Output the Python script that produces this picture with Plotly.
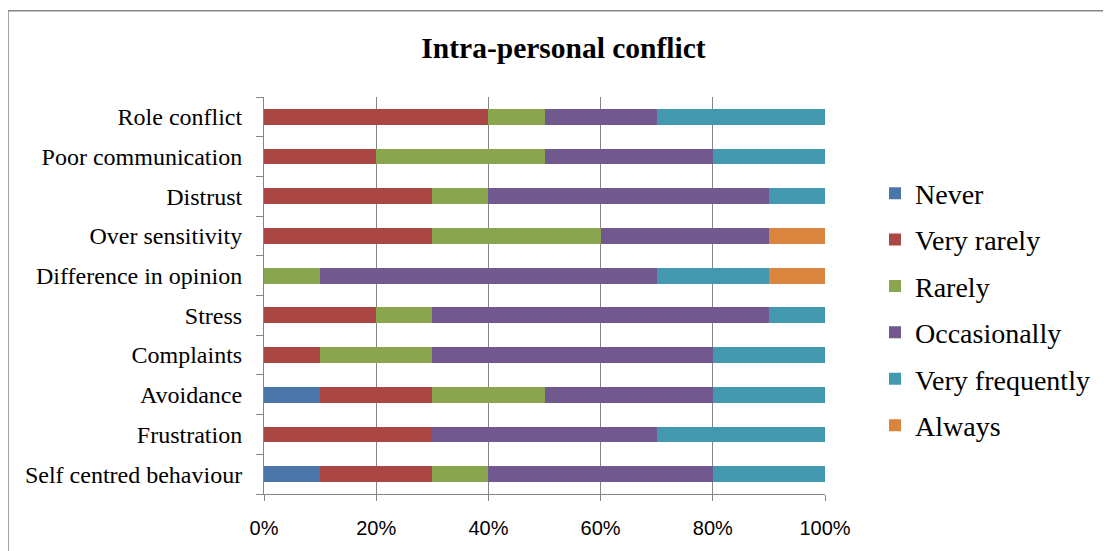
import plotly.graph_objects as go

categories = ["Self centred behaviour", "Frustration", "Avoidance", "Complaints", "Stress",
              "Difference in opinion", "Over sensitivity", "Distrust", "Poor communication", "Role conflict"]
never = [10, 0, 10, 0, 0, 0, 0, 0, 0, 0]
very_rarely = [20, 30, 20, 10, 20, 0, 30, 30, 20, 40]
rarely = [10, 0, 20, 20, 10, 10, 30, 10, 30, 10]
occasionally = [40, 40, 30, 50, 60, 60, 30, 50, 30, 20]
very_frequently = [20, 30, 20, 20, 10, 20, 0, 10, 20, 30]
always = [0, 0, 0, 0, 0, 10, 10, 0, 0, 0]

series = [
    ("Never", never, "#4A76AA"),
    ("Very rarely", very_rarely, "#AA4744"),
    ("Rarely", rarely, "#89A54E"),
    ("Occasionally", occasionally, "#71588F"),
    ("Very frequently", very_frequently, "#4198AF"),
    ("Always", always, "#DB843D"),
]
x_ticks = [0, 20, 40, 60, 80, 100]
x_tick_labels = ["0%", "20%", "40%", "60%", "80%", "100%"]

fig = go.Figure()
for name, vals, color in series:
    fig.add_trace(go.Bar(
        y=categories, x=vals, name=name, orientation="h",
        marker=dict(color=color, line=dict(width=0)),
        legendgroup=name,
    ))

# page offset of the figure inside the html body (default 8px body margin)
OFF = 8
W, H = 1111 - OFF, 551 - OFF
L, R, T, B = 264 - OFF, 825 - OFF, 97 - OFF, 497 - OFF

def px_to_x(px):
    return (px - OFF - L) / (R - L)

def py_to_y(py):
    return (B - (py - OFF)) / (B - T)

fig.update_layout(
    width=W, height=H,
    barmode="stack",
    bargap=0.6,
    plot_bgcolor="white",
    paper_bgcolor="white",
    margin=dict(l=L, r=W - R, t=T, b=H - B, pad=0),
    title=dict(text="<b>Intra-personal conflict</b>", x=(563.5 - OFF) / W, xref="container", xanchor="center",
               y=1 - (48 - OFF) / H, yref="container", yanchor="middle",
               font=dict(family="Liberation Serif", size=29.5, color="black")),
    legend=dict(x=px_to_x(875), xanchor="left", y=py_to_y(169), yanchor="top",
                traceorder="grouped", tracegroupgap=7,
                font=dict(family="Liberation Serif", size=28, color="black"),
                bgcolor="rgba(0,0,0,0)"),
    showlegend=True,
    xaxis=dict(range=[0, 100], tickvals=x_ticks, ticktext=x_tick_labels,
               showgrid=True, gridcolor="#868686", gridwidth=1,
               showline=True, linecolor="#868686", linewidth=1,
               ticks="outside", ticklen=6, tickcolor="#868686",
               tickfont=dict(family="Liberation Sans", size=20, color="black"),
               ticklabelstandoff=10, zeroline=False, fixedrange=True),
    yaxis=dict(categoryorder="array", categoryarray=categories,
               showline=True, linecolor="#868686", linewidth=1,
               ticks="outside", ticklen=7, tickcolor="#868686", tickson="boundaries",
               tickfont=dict(family="Liberation Serif", size=24, color="black"),
               ticklabelstandoff=16, showgrid=False, fixedrange=True),
    shapes=[dict(type="rect", xref="paper", yref="paper",
                 x0=px_to_x(8), x1=px_to_x(1140),
                 y0=py_to_y(580), y1=py_to_y(10),
                 line=dict(color="#868686", width=1.5), fillcolor="rgba(0,0,0,0)", layer="below")],
)

fig.write_html("out.html")
